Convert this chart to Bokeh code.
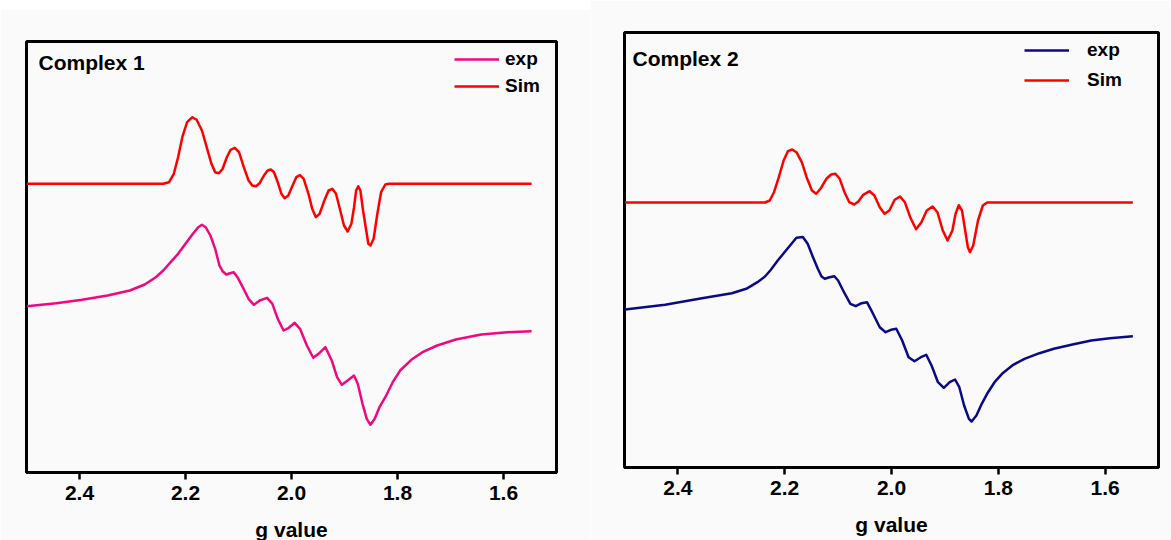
from bokeh.plotting import figure
from bokeh.layouts import row
from bokeh.models import Range1d, FixedTicker, Legend, LegendItem, Label
from bokeh.embed import file_html
from bokeh.resources import INLINE

# ---------------- data (intensity in arbitrary units) ----------------
tick_values = [2.4, 2.2, 2.0, 1.8, 1.6]
tick_labels = ["2.4", "2.2", "2.0", "1.8", "1.6"]

# Complex 1 - simulated
c1_sim_g = [2.500, 2.242, 2.231, 2.222, 2.214, 2.206, 2.197, 2.187, 2.179, 2.169, 2.160, 2.151,
            2.144, 2.137, 2.130, 2.122, 2.115, 2.107, 2.099, 2.090, 2.081, 2.074, 2.067, 2.060,
            2.052, 2.045, 2.039, 2.033, 2.026, 2.019, 2.013, 2.006, 1.998, 1.991, 1.984, 1.977,
            1.968, 1.961, 1.954, 1.947, 1.938, 1.930, 1.923, 1.916, 1.908, 1.901, 1.894, 1.887,
            1.882, 1.878, 1.874, 1.870, 1.865, 1.859, 1.855, 1.851, 1.845, 1.838, 1.831, 1.823,
            1.816, 1.547]
c1_sim_i = [288.7, 288.7, 290.3, 298.7, 315.3, 335.3, 350.3, 355.3, 352.7, 342.0, 325.3, 308.7,
            300.3, 299.3, 303.7, 315.3, 322.7, 324.7, 320.3, 305.3, 292.0, 287.0, 286.3, 289.3,
            297.0, 302.0, 303.0, 300.3, 290.3, 278.7, 274.3, 277.0, 287.0, 295.3, 297.3, 293.7,
            278.7, 263.7, 255.3, 258.7, 272.0, 282.0, 283.7, 278.7, 262.0, 247.0, 241.0, 248.7,
            265.3, 282.0, 286.3, 282.0, 262.0, 242.0, 228.7, 227.0, 233.7, 258.7, 280.3, 288.0,
            288.7, 288.7]

# Complex 1 - experimental
c1_exp_g = [2.499, 2.444, 2.395, 2.347, 2.305, 2.277, 2.256, 2.242, 2.228, 2.214, 2.200, 2.186,
            2.176, 2.169, 2.162, 2.153, 2.144, 2.136, 2.130, 2.123, 2.116, 2.109, 2.102, 2.092,
            2.081, 2.071, 2.060, 2.046, 2.036, 2.026, 2.015, 2.005, 1.994, 1.984, 1.971, 1.959,
            1.949, 1.936, 1.924, 1.914, 1.905, 1.894, 1.882, 1.875, 1.866, 1.858, 1.851, 1.843,
            1.834, 1.823, 1.809, 1.795, 1.774, 1.753, 1.725, 1.690, 1.642, 1.593, 1.547]
c1_exp_i = [166.3, 169.3, 172.7, 177.0, 182.0, 188.0, 195.3, 202.0, 210.3, 218.7, 228.7, 238.7,
            245.3, 247.7, 245.3, 237.0, 223.7, 207.0, 201.3, 198.0, 199.3, 200.3, 195.3, 185.3,
            173.7, 167.7, 172.0, 174.7, 168.7, 153.7, 142.0, 144.7, 149.7, 143.7, 127.0, 114.7,
            118.7, 125.3, 112.0, 95.3, 87.7, 92.0, 97.0, 88.7, 68.7, 53.7, 47.7, 53.7,
            65.3, 75.3, 90.3, 102.0, 112.7, 120.3, 127.0, 133.0, 138.0, 140.3, 141.3]

# Complex 2 - simulated
c2_sim_g = [2.499, 2.237, 2.228, 2.220, 2.211, 2.202, 2.194, 2.186, 2.178, 2.168, 2.159, 2.149,
            2.141, 2.133, 2.122, 2.113, 2.105, 2.097, 2.088, 2.079, 2.070, 2.062, 2.053, 2.041,
            2.032, 2.022, 2.013, 2.004, 1.994, 1.984, 1.975, 1.965, 1.954, 1.944, 1.934, 1.923,
            1.914, 1.904, 1.895, 1.886, 1.880, 1.874, 1.868, 1.862, 1.857, 1.853, 1.847, 1.838,
            1.829, 1.821, 1.548]
c2_sim_i = [265.0, 265.0, 267.0, 275.3, 290.3, 307.0, 316.3, 318.0, 315.3, 305.3, 290.3, 277.0,
            273.7, 278.7, 288.7, 293.0, 293.7, 288.7, 275.3, 265.3, 263.0, 266.0, 272.7, 276.3,
            272.0, 260.3, 253.7, 257.0, 267.7, 271.0, 265.3, 250.3, 238.3, 245.3, 257.0, 261.0,
            255.3, 237.0, 227.0, 237.0, 253.7, 262.3, 257.0, 237.0, 220.3, 215.3, 222.0, 247.0,
            262.0, 265.0, 265.0]

# Complex 2 - experimental
c2_exp_g = [2.499, 2.424, 2.355, 2.299, 2.272, 2.251, 2.237, 2.227, 2.213, 2.195, 2.178, 2.166,
            2.157, 2.147, 2.138, 2.131, 2.125, 2.116, 2.107, 2.100, 2.088, 2.077, 2.067, 2.056,
            2.046, 2.036, 2.022, 2.011, 2.001, 1.991, 1.980, 1.968, 1.957, 1.945, 1.935, 1.925,
            1.913, 1.902, 1.891, 1.881, 1.873, 1.864, 1.855, 1.850, 1.841, 1.831, 1.821, 1.807,
            1.793, 1.772, 1.751, 1.723, 1.696, 1.661, 1.626, 1.591, 1.548]
c2_exp_i = [158.0, 162.7, 169.3, 174.3, 178.7, 185.3, 191.0, 197.0, 207.0, 218.7, 229.7, 230.5,
            223.7, 210.3, 198.7, 191.0, 188.7, 190.3, 191.3, 187.0, 174.3, 163.7, 161.3, 164.3,
            165.3, 155.3, 140.3, 135.3, 137.7, 138.7, 127.0, 110.3, 106.3, 110.3, 112.7, 102.0,
            85.3, 79.7, 85.3, 88.0, 80.3, 62.0, 48.7, 46.0, 52.0, 63.7, 73.7, 85.3,
            93.7, 102.7, 108.7, 114.3, 118.7, 123.0, 127.0, 129.3, 131.3]

FONT = "Liberation Sans"
BG = "#fafafa"


def make_panel(title, exp_g, exp_i, sim_g, sim_i, exp_color, width, height, borders, ymax,
               legend_loc, legend_spacing, legend_standoff, title_xy):
    left, right, top, bottom = borders
    p = figure(width=width, height=height, output_backend="svg", toolbar_location=None,
               x_range=Range1d(2.5, 1.5), y_range=Range1d(0, ymax),
               y_axis_location=None, min_border_left=left, min_border_right=right,
               min_border_top=top, min_border_bottom=bottom)
    p.background_fill_color = BG
    p.border_fill_color = BG
    p.grid.visible = False
    p.outline_line_color = "black"
    p.outline_line_width = 3
    p.outline_line_alpha = 1

    ax = p.xaxis[0]
    ax.ticker = FixedTicker(ticks=tick_values)
    ax.major_label_overrides = {v: s for v, s in zip(tick_values, tick_labels)}
    ax.minor_tick_line_color = None
    ax.major_tick_in = 0
    ax.major_tick_out = 7
    ax.major_tick_line_width = 2.5
    ax.major_tick_line_color = "black"
    ax.axis_line_width = 3
    ax.axis_line_color = "black"
    ax.major_label_text_font = FONT
    ax.major_label_text_font_style = "bold"
    ax.major_label_text_font_size = "21px"
    ax.major_label_text_color = "black"
    ax.major_label_standoff = 6
    ax.axis_label = "g value"
    ax.axis_label_text_font = FONT
    ax.axis_label_text_font_style = "bold"
    ax.axis_label_text_font_size = "21px"
    ax.axis_label_text_color = "black"
    ax.axis_label_standoff = 15

    r_sim = p.line(sim_g, sim_i, line_color="#ff0000", line_width=2.5, line_join="round")
    r_exp = p.line(exp_g, exp_i, line_color=exp_color, line_width=2.5, line_join="round")

    leg = Legend(items=[LegendItem(label="exp", renderers=[r_exp]),
                        LegendItem(label="Sim", renderers=[r_sim])],
                 location=legend_loc, orientation="vertical")
    leg.glyph_width = 45
    leg.glyph_height = 20
    leg.label_height = 20
    leg.label_standoff = legend_standoff
    leg.spacing = legend_spacing
    leg.padding = 0
    leg.margin = 0
    leg.border_line_alpha = 0
    leg.background_fill_alpha = 0
    leg.label_text_font = FONT
    leg.label_text_font_style = "bold"
    leg.label_text_font_size = "19px"
    leg.label_text_color = "black"
    p.add_layout(leg, "center")

    p.add_layout(Label(x=title_xy[0], y=title_xy[1], x_units="screen", y_units="screen",
                       text=title, text_font=FONT, text_font_style="bold",
                       text_font_size="21px", text_color="black", text_baseline="middle"))
    return p


# left panel is pushed down by a top margin so its frame sits lower than the right one
p1 = make_panel("Complex 1", c1_exp_g, c1_exp_i, c1_sim_g, c1_sim_i, "#f0087f",
                590, 536, (26, 34, 32, 73), 431, (428, 375), 5, 6, (12, 410))
p1.margin = (9, 0, 0, 0)
p2 = make_panel("Complex 2", c2_exp_g, c2_exp_i, c2_sim_g, c2_sim_i, "#0a0a88",
                581, 540, (34, 13, 32, 73), 435, (400, 376), 8, 18, (8, 409))

layout = row(p1, p2)
open("out.html", "w").write(file_html(layout, INLINE))
